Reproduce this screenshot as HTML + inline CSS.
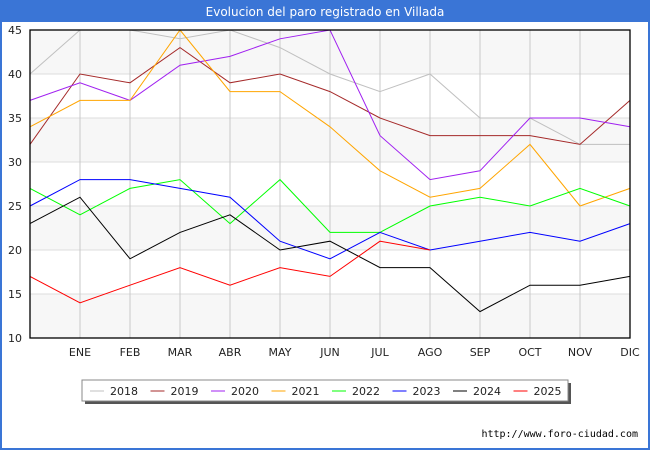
<!DOCTYPE html>
<html><head><meta charset="utf-8"><style>
body{margin:0;width:650px;height:450px;background:#fff;font-family:"DejaVu Sans","Liberation Sans",sans-serif;overflow:hidden}
svg text{font-family:"DejaVu Sans","Liberation Sans",sans-serif}
</style></head><body>
<div style="position:relative;width:650px;height:450px;">
<svg id="chart" width="650" height="450" style="position:absolute;left:0;top:0">
<rect x="0" y="0" width="650" height="450" fill="#3a75d6"/>
<rect x="2" y="22" width="646" height="426" fill="#fff"/>
<text x="325" y="16" text-anchor="middle" font-size="12" fill="#fff">Evolucion del paro registrado en Villada</text>
<g id="plot"></g>
<text x="638" y="437" text-anchor="end" font-size="10" fill="#000" style="font-family:'DejaVu Sans Mono','Liberation Mono',monospace">http://www.foro-ciudad.com</text>
</svg>
</div>
<script>
const months = ["", "ENE","FEB","MAR","ABR","MAY","JUN","JUL","AGO","SEP","OCT","NOV","DIC"];
const yTicks = [10,15,20,25,30,35,40,45];
const seriesNames = ["2018","2019","2020","2021","2022","2023","2024","2025"];
const seriesColors = ["#c0c0c0","#a52a2a","#a020f0","#ffa500","#00ff00","#0000ff","#000000","#ff0000"];
const s2018 = [40,45,45,44,45,43,40,38,40,35,35,32,32];
const s2019 = [32,40,39,43,39,40,38,35,33,33,33,32,37];
const s2020 = [37,39,37,41,42,44,45,33,28,29,35,35,34];
const s2021 = [34,37,37,45,38,38,34,29,26,27,32,25,27];
const s2022 = [27,24,27,28,23,28,22,22,25,26,25,27,25];
const s2023 = [25,28,28,27,26,21,19,22,20,21,22,21,23];
const s2024 = [23,26,19,22,24,20,21,18,18,13,16,16,17];
const s2025 = [17,14,16,18,16,18,17,21,20];
const allSeries = [s2018,s2019,s2020,s2021,s2022,s2023,s2024,s2025];

const X0=30,X1=630,Y0=30,Y1=338,YMIN=10,YMAX=45;
const xs = i => X0 + i*(X1-X0)/(months.length-1);
const ys = v => Y1 - (v-YMIN)*(Y1-Y0)/(YMAX-YMIN);
const NS="http://www.w3.org/2000/svg";
const g=document.getElementById('plot');
function mk(t,a){const e=document.createElementNS(NS,t);for(const k in a)e.setAttribute(k,a[k]);g.appendChild(e);return e;}

for(let i=0;i<yTicks.length-1;i++){
  if(i%2===0){
    const b=mk('rect',{x:X0,y:ys(yTicks[i+1]),width:X1-X0,height:ys(yTicks[i])-ys(yTicks[i+1]),fill:'#f7f7f7'});
    
    
  }
}
yTicks.forEach(v=>{
  const l=mk('line',{x1:X0,x2:X1,y1:ys(v),y2:ys(v),stroke:'#dddddd','stroke-width':1});
  
  
  const t=mk('text',{x:X0-8,y:ys(v)+4,'text-anchor':'end','font-size':11,fill:'#222'});
  t.textContent=v;
  
  
});
months.forEach((m,i)=>{
  if(i===0)return;
  const l=mk('line',{x1:xs(i),x2:xs(i),y1:Y0,y2:Y1,stroke:'#c8c8c8','stroke-width':1});
  
  
  const t=mk('text',{x:xs(i),y:Y1+18,'text-anchor':'middle','font-size':11,fill:'#222'});
  t.textContent=m;
  
  
});
allSeries.forEach((s,k)=>{
  const p=mk('polyline',{points:s.map((v,i)=>xs(i)+','+ys(v)).join(' '),fill:'none',stroke:seriesColors[k],'stroke-width':1});
  
  
});
const bx=mk('rect',{x:X0,y:Y0,width:X1-X0,height:Y1-Y0,fill:'none',stroke:'#000','stroke-width':1.3});



const sh=mk('rect',{x:85,y:383,width:486,height:21,fill:'#555'});


const lg=mk('rect',{x:82,y:380,width:486,height:21,fill:'#fff',stroke:'#888','stroke-width':1});


seriesNames.forEach((n,k)=>{
  const lx=90+k*60.5;
  const l=mk('line',{x1:lx,x2:lx+14,y1:391,y2:391,stroke:seriesColors[k],'stroke-width':1});
  
  
  const t=mk('text',{x:lx+20,y:395,'font-size':11,fill:'#222'});
  t.textContent=n;
  
  
});
</script>
</body></html>
